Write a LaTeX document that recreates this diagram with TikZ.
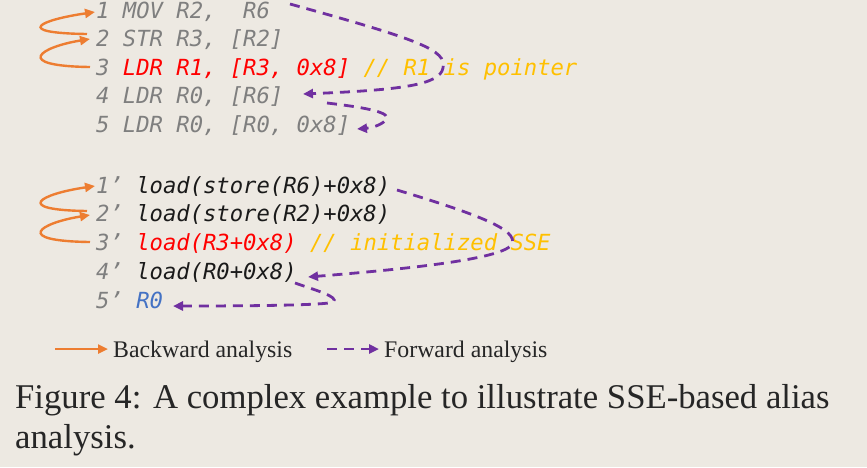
\documentclass[tikz,border=0pt]{standalone}
\usepackage{fontspec}
\setmainfont{Liberation Serif}
\newfontfamily\codefont{DejaVu Sans Mono}
\usetikzlibrary{arrows.meta}
\definecolor{bg}{HTML}{EDE9E2}
\definecolor{cgray}{HTML}{7F7F7F}
\definecolor{cred}{HTML}{FF0000}
\definecolor{cgold}{HTML}{FFC000}
\definecolor{cblack}{HTML}{1A1A1A}
\definecolor{cblue}{HTML}{4472C4}
\definecolor{corange}{HTML}{ED7D31}
\definecolor{cpurple}{HTML}{7030A0}
\tikzset{
  codeline/.style={anchor=base west,inner sep=0pt,font=\codefont\itshape\fontsize{22.2}{26}\selectfont,text=cgray},
  back/.style={draw=corange,line width=2.4pt,-{Triangle[length=10pt,width=9pt]}},
  fwd/.style={draw=cpurple,line width=2.8pt,dash pattern=on 10pt off 7pt,-{Triangle[length=10pt,width=9pt]}},
  legendtext/.style={anchor=base west,inner sep=0pt,font=\fontsize{23.8}{26}\selectfont,text=black!85},
  captext/.style={anchor=base west,inner sep=0pt,font=\fontsize{34.7}{40}\selectfont,text=black!85}
}
\begin{document}
\begin{tikzpicture}[x=1pt,y=-1pt]
\fill[bg] (0,0) rectangle (867,467);
\useasboundingbox (0,0) rectangle (867,467);
% top code
\node[codeline] (a1) at (96,18) {1 MOV R2,\ \ R6};
\node[codeline] (a2) at (96,46.5) {2 STR R3, [R2]};
\node[codeline] (a3) at (96,75) {3 \textcolor{cred}{LDR R1, [R3, 0x8]} \textcolor{cgold}{// R1 is pointer}};
\node[codeline] (a4) at (96,103.5) {4 LDR R0, [R6]};
\node[codeline] (a5) at (96,132) {5 LDR R0, [R0, 0x8]};
% bottom code
\node[codeline] (b1) at (96,193) {1’ \textcolor{cblack}{load(store(R6)+0x8)}};
\node[codeline] (b2) at (96,221.5) {2’ \textcolor{cblack}{load(store(R2)+0x8)}};
\node[codeline] (b3) at (96,250) {3’ \textcolor{cred}{load(R3+0x8)} \textcolor{cgold}{// initialized SSE}};
\node[codeline] (b4) at (96,279) {4’ \textcolor{cblack}{load(R0+0x8)}};
\node[codeline] (b5) at (96,308) {5’ \textcolor{cblue}{R0}};
% anchor coordinates
\coordinate (a2s) at (87,34);   \coordinate (a1t) at (95,12);
\coordinate (a3s) at (90,67);   \coordinate (a2t) at (90,39);
\coordinate (b2s) at (87,211);  \coordinate (b1t) at (95,186);
\coordinate (b3s) at (90,242);  \coordinate (b2t) at (90,215);
\coordinate (a1e) at (290,4);   \coordinate (a4t) at (303,94);
\coordinate (a4e) at (327,103); \coordinate (a5t) at (357,129);
\coordinate (b1e) at (397,190); \coordinate (b4t) at (308,277);
\coordinate (b4e) at (295,283); \coordinate (b5t) at (173,306);
% backward arrows
\draw[back] (a2s) .. controls (12,33) and (40,20) .. (a1t);
\draw[back] (a3s) .. controls (12,66) and (40,47) .. (a2t);
\draw[back] (b2s) .. controls (12,210) and (40,194) .. (b1t);
\draw[back] (b3s) .. controls (12,241) and (40,223) .. (b2t);
% forward arrows
\draw[fwd] (a1e) .. controls (420,40) and (447,50) .. (443,68) .. controls (440,85) and (400,90) .. (a4t);
\draw[fwd] (a4e) .. controls (370,108) and (392,113) .. (386,120) .. controls (380,126) and (370,128) .. (a5t);
\draw[fwd] (b1e) .. controls (480,215) and (518,230) .. (512,244) .. controls (505,258) and (420,268) .. (b4t);
\draw[fwd] (b4e) .. controls (315,290) and (340,297) .. (333,302) .. controls (328,305) and (260,306) .. (b5t);
% legend
\coordinate (lb1) at (55,349); \coordinate (lb2) at (108,349);
\coordinate (lf1) at (327,349); \coordinate (lf2) at (379,349);
\draw[back] (lb1) -- (lb2);
\draw[fwd] (lf1) -- (lf2);
\node[legendtext] (lbt) at (113,357) {Backward analysis};
\node[legendtext] (lft) at (384,357) {Forward analysis};
% caption
\node[captext] (cap1) at (15,408) {Figure 4: A complex example to illustrate SSE-based alias};
\node[captext] (cap2) at (15,448) {analysis.};
\end{tikzpicture}
\end{document}
